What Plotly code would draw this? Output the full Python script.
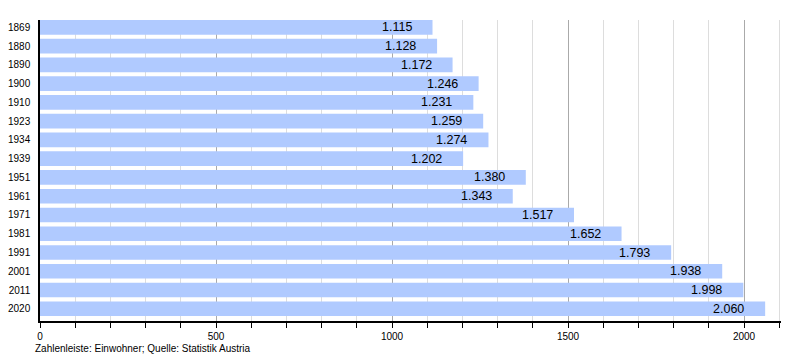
import plotly.graph_objects as go

years = ["1869", "1880", "1890", "1900", "1910", "1923", "1934", "1939",
         "1951", "1961", "1971", "1981", "1991", "2001", "2011", "2020"]
population = [1115, 1128, 1172, 1246, 1231, 1259, 1274, 1202,
              1380, 1343, 1517, 1652, 1793, 1938, 1998, 2060]
x_tick_vals = [0, 500, 1000, 1500, 2000]
footer = "Zahlenleiste: Einwohner; Quelle: Statistik Austria"

FONT = "Liberation Sans, Arial, Helvetica, sans-serif"

fig = go.Figure(go.Bar(
    x=population, y=years, orientation="h",
    marker=dict(color="#b0caff", line=dict(width=0)),
    width=0.78,
    hoverinfo="x+y",
))

# category axis: annotation y uses the category's serial index
value_labels = [dict(
    x=v, y=i, xref="x", yref="y", text=f"{v:,}".replace(",", "."),
    xanchor="right", yanchor="middle", xshift=-19, showarrow=False,
    font=dict(size=12.5, color="black", family=FONT),
) for i, v in enumerate(population)]

fig.update_layout(
    width=800, height=360,
    margin=dict(l=40, r=19, t=20, b=39),
    plot_bgcolor="white", paper_bgcolor="white",
    font=dict(family=FONT, color="black", size=10),
    showlegend=False,
    xaxis=dict(
        range=[0, 2105], tickvals=x_tick_vals, ticktext=[str(v) for v in x_tick_vals],
        showgrid=True, gridcolor="#aaaaaa", gridwidth=1,
        ticks="outside", ticklen=5, tickcolor="black",
        showline=True, linecolor="black", linewidth=1.5,
        zeroline=False, automargin=False,
        minor=dict(dtick=100, showgrid=True, gridcolor="#dddddd", gridwidth=1,
                   ticks="outside", ticklen=5, tickcolor="black"),
        tickfont=dict(size=10),
    ),
    yaxis=dict(
        type="category", range=[15.65, -0.39],
        showline=True, linecolor="black", linewidth=1.5,
        showgrid=False, ticks="", ticklabelstandoff=6, automargin=False,
        tickfont=dict(size=10),
    ),
    annotations=value_labels + [dict(
        text=footer, xref="paper", yref="paper", x=-0.01, y=-0.068,
        xanchor="left", yanchor="top", showarrow=False,
        font=dict(size=10, color="black", family=FONT),
    )],
)

fig.write_html("out.html", config={"displayModeBar": False},
               post_script="document.body.style.margin='0';document.body.style.overflow='hidden';")
